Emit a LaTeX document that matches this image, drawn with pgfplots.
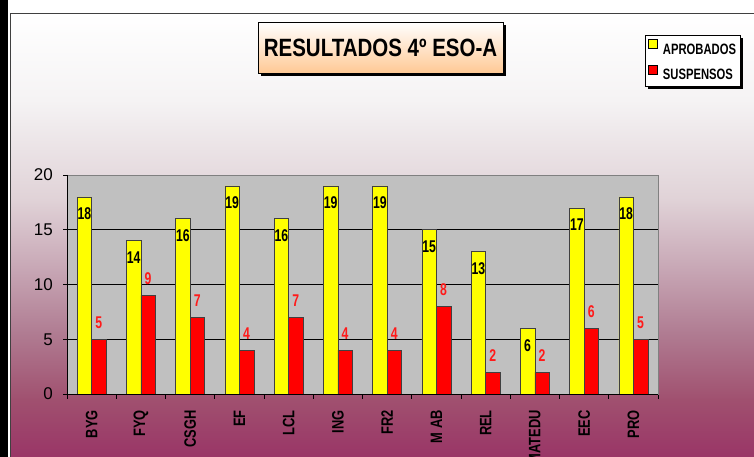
\documentclass[border=0pt]{standalone}
\usepackage{fontspec}
\setmainfont{Liberation Sans}
\newfontfamily\cA{Liberation Sans}[FakeStretch=0.72]
\newfontfamily\cL{Liberation Sans}[FakeStretch=0.75]
\newfontfamily\cB{Liberation Sans}[FakeStretch=0.78]
\newfontfamily\cC{Liberation Sans}[FakeStretch=0.82]
\usepackage{pgfplots}
\pgfplotsset{compat=1.18}
\usetikzlibrary{shadows}
\makeatletter
\tikzset{nopreact/.code={\let\tikz@preactions\pgfutil@empty}}
\makeatother
\definecolor{bgA}{HTML}{993366}
\definecolor{bgB}{HTML}{A0506F}
\definecolor{bgC}{HTML}{B07C92}
\definecolor{bgD}{HTML}{C8A8B6}
\definecolor{bgE}{HTML}{E0D2D7}
\definecolor{bgF}{HTML}{F5F3F4}
\definecolor{plotgray}{HTML}{C0C0C0}
\definecolor{framegray}{HTML}{808080}
\definecolor{peach}{HTML}{FFC995}
\definecolor{barY}{HTML}{FFFF00}
\definecolor{barR}{HTML}{FF0000}
\definecolor{labR}{HTML}{FF1A1A}
\begin{document}
\begin{tikzpicture}
\useasboundingbox (0,0) rectangle (754pt,457pt);
\clip (0,0) rectangle (754pt,457pt);
\fill[white] (0,0) rectangle (754pt,457pt);
\fill[black] (0,0) rectangle (8pt,457pt);
% chart area gradient
\shade[top color=white, bottom color=bgF] (10pt,357pt) rectangle (760pt,444pt);
\shade[top color=bgF, bottom color=bgE] (10pt,257pt) rectangle (760pt,357.3pt);
\shade[top color=bgE, bottom color=bgD] (10pt,190pt) rectangle (760pt,257.3pt);
\shade[top color=bgD, bottom color=bgC] (10pt,124pt) rectangle (760pt,190.3pt);
\shade[top color=bgC, bottom color=bgB] (10pt,57pt) rectangle (760pt,124.3pt);
\shade[top color=bgB, bottom color=bgA] (10pt,-5pt) rectangle (760pt,57.3pt);
\draw[black!75, line width=1pt] (10.5pt,-5pt) -- (10.5pt,443.5pt) -- (760pt,443.5pt);
% title
\node[draw=black, line width=0.6pt, top color=white, bottom color=peach,
      minimum width=245pt, minimum height=51pt, inner sep=0pt,
      drop shadow={shadow xshift=3pt, shadow yshift=-3pt, fill=black, opacity=1},
      font=\cC\bfseries\fontsize{25}{30}\selectfont]
      at (380.5pt,409.5pt) {RESULTADOS 4º ESO-A};
\begin{axis}[
  at={(67pt,63pt)}, anchor=south west, scale only axis,
  width=591pt, height=219pt,
  xmin=-0.5, xmax=11.5, ymin=0, ymax=20,
  ybar=0pt, bar width=14.5pt,
  axis background/.style={fill=plotgray},
  axis line style={draw=framegray, line width=0.8pt},
  ytick={0,5,10,15,20}, ytick pos=left, xtick pos=left,
  tick align=outside, major tick length=4pt, minor tick length=5pt,
  tick style={black, line width=0.8pt},
  xtick={0,...,11},
  xticklabels={BYG,FYQ,CSGH,EF,LCL,ING,FR2,M AB,REL,MATEDU,EEC,PRO},
  major x tick style={draw=none},
  minor xtick={-0.5,0.5,...,11.5},
  ymajorgrids, grid style={black, line width=0.8pt},
  /pgf/number format/assume math mode=true,
  yticklabel style={font=\fontsize{17}{20}\selectfont, inner sep=0pt},
  xticklabel style={font=\cB\bfseries\fontsize{16.5}{20}\selectfont, rotate=90, anchor=east, inner sep=0pt},
  xticklabel shift=12pt, yticklabel shift=10pt,
  legend cell align=left,
  legend style={at={(axis description cs:0.978,1.639)}, anchor=north west,
     draw=black, line width=0.6pt, fill=white,
     font=\cL\bfseries\fontsize{15}{17}\selectfont,
     inner xsep=3pt, inner ysep=4pt, row sep=8pt,
     nodes={inner sep=1pt},
     drop shadow={shadow xshift=3pt, shadow yshift=-3pt, fill=black, opacity=1}},
  legend image code/.code={\draw[nopreact, #1, draw=black, line width=0.6pt] (1pt,1pt) rectangle (10pt,10pt);},
  after end axis/.code={\draw[black, line width=0.8pt] (rel axis cs:0,1) -- (rel axis cs:0,0) -- (rel axis cs:1,0);},
]
\addplot[fill=barY, draw=black!75, line width=0.6pt,
  nodes near coords,
  every node near coord/.append style={anchor=center, yshift=-17pt, text=black,
     font=\cA\bfseries\fontsize{17}{20}\selectfont}]
  coordinates {(0,18) (1,14) (2,16) (3,19) (4,16) (5,19) (6,19) (7,15) (8,13) (9,6) (10,17) (11,18)};
\addlegendentry{\hspace{4pt}APROBADOS}
\addplot[fill=barR, draw=black!75, line width=0.6pt,
  nodes near coords,
  every node near coord/.append style={anchor=center, yshift=17pt, text=labR,
     font=\cA\bfseries\fontsize{17}{20}\selectfont}]
  coordinates {(0,5) (1,9) (2,7) (3,4) (4,7) (5,4) (6,4) (7,8) (8,2) (9,2) (10,6) (11,5)};
\addlegendentry{\hspace{4pt}SUSPENSOS}
\end{axis}
\end{tikzpicture}
\end{document}
